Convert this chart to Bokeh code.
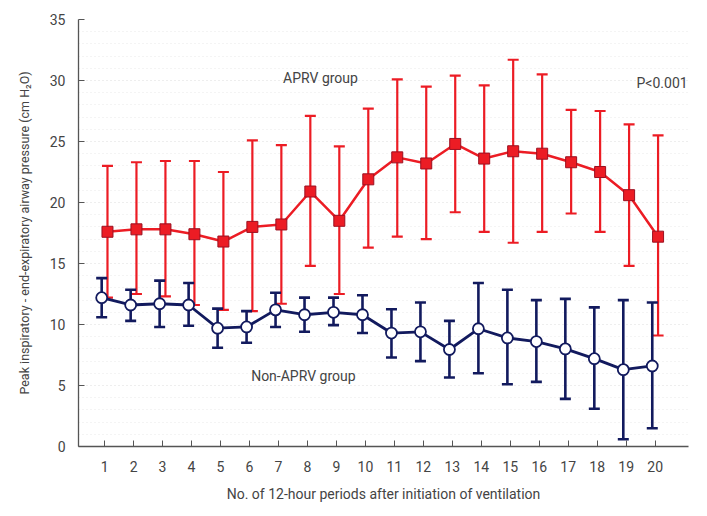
import numpy as np
from bokeh.plotting import figure
from bokeh.models import ColumnDataSource, Whisker, TeeHead, FixedTicker, Label
from bokeh.embed import file_html
from bokeh.resources import INLINE

periods = list(range(1, 21))
aprv_mean = [17.6, 17.8, 17.8, 17.4, 16.8, 18.0, 18.2, 20.9, 18.5, 21.9,
             23.7, 23.2, 24.8, 23.6, 24.2, 24.0, 23.3, 22.5, 20.6, 17.2]
aprv_upper = [23.0, 23.3, 23.4, 23.4, 22.5, 25.1, 24.7, 27.1, 24.6, 27.7,
              30.1, 29.5, 30.4, 29.6, 31.7, 30.5, 27.6, 27.5, 26.4, 25.5]
aprv_lower = [12.2, 12.5, 12.3, 11.6, 11.2, 11.1, 11.7, 14.8, 12.5, 16.3,
              17.2, 17.0, 19.2, 17.6, 16.7, 17.6, 19.1, 17.6, 14.8, 9.1]
non_mean = [12.2, 11.6, 11.7, 11.6, 9.7, 9.8, 11.2, 10.8, 11.0, 10.8,
            9.3, 9.4, 7.95, 9.65, 8.9, 8.6, 8.0, 7.2, 6.3, 6.6]
non_upper = [13.8, 12.85, 13.6, 13.4, 11.3, 11.1, 12.6, 12.2, 12.2, 12.4,
             11.25, 11.8, 10.3, 13.4, 12.85, 12.0, 12.1, 11.4, 12.0, 11.8]
non_lower = [10.6, 10.3, 9.8, 9.9, 8.1, 8.5, 9.8, 9.4, 9.95, 9.3,
             7.3, 7.0, 5.65, 6.0, 5.1, 5.3, 3.9, 3.1, 0.6, 1.5]
y_ticks = [0, 5, 10, 15, 20, 25, 30, 35]

RED = "#ec1c24"
NAVY = "#121a5e"
FONT = "Roboto"

x = np.array(periods, dtype=float)
src_a = ColumnDataSource(dict(x=x + 0.1, y=aprv_mean, upper=aprv_upper, lower=aprv_lower))
src_n = ColumnDataSource(dict(x=x - 0.1, y=non_mean, upper=non_upper, lower=non_lower))

p = figure(width=699, height=508, x_range=(0.1, 21.15), y_range=(0, 35),
           output_backend="svg", toolbar_location=None,
           min_border_left=78, min_border_right=11, min_border_top=19, min_border_bottom=62)
p.outline_line_color = None
p.background_fill_color = "white"

# grid
p.xgrid.grid_line_color = None
p.ygrid.grid_line_color = "#e8e8e8"
p.ygrid.grid_line_dash = "1 3"
p.ygrid.minor_grid_line_color = "#e8e8e8"
p.ygrid.minor_grid_line_dash = "1 3"

# axes
p.yaxis.ticker = FixedTicker(ticks=y_ticks, minor_ticks=list(range(0, 36)))
p.xaxis.ticker = FixedTicker(ticks=periods)
for ax in (p.xaxis[0], p.yaxis[0]):
    ax.axis_line_color = "#555555"
    ax.axis_line_width = 1.3
    ax.major_tick_line_color = "#555555"
    ax.major_tick_in = 6
    ax.major_tick_out = 0
    ax.minor_tick_line_color = None
    ax.major_label_text_font = FONT
    ax.major_label_text_font_size = "14px"
    ax.major_label_text_color = "#444444"
    ax.axis_label_text_font = FONT
    ax.axis_label_text_font_size = "14px"
    ax.axis_label_text_font_style = "normal"
    ax.axis_label_text_color = "#444444"
p.yaxis.axis_label_text_font_size = "12.5px"
p.yaxis.major_label_standoff = 9
p.xaxis.major_label_standoff = 14
p.yaxis.axis_label = "Peak inspiratory - end-expiratory airway pressure (cm H\u2082O)"
p.xaxis.axis_label = "No. of 12-hour periods after initiation of ventilation"
p.yaxis.axis_label_standoff = 15
p.xaxis.axis_label_standoff = 11

# APRV group
wa = Whisker(source=src_a, base="x", upper="upper", lower="lower", dimension="height",
             line_color=RED, line_width=2.2,
             upper_head=TeeHead(size=11, line_color=RED, line_width=2.2),
             lower_head=TeeHead(size=11, line_color=RED, line_width=2.2))
p.add_layout(wa)
p.line("x", "y", source=src_a, line_color=RED, line_width=2.5)
p.scatter("x", "y", source=src_a, marker="square", size=11, fill_color=RED,
          line_color="#9b1020", line_width=1)

# Non-APRV group
wn = Whisker(source=src_n, base="x", upper="upper", lower="lower", dimension="height",
             line_color=NAVY, line_width=2.6,
             upper_head=TeeHead(size=11, line_color=NAVY, line_width=2.6),
             lower_head=TeeHead(size=11, line_color=NAVY, line_width=2.6))
p.add_layout(wn)
p.line("x", "y", source=src_n, line_color=NAVY, line_width=2.8)
p.scatter("x", "y", source=src_n, marker="circle", size=11, fill_color="white",
          line_color=NAVY, line_width=1.8)

# annotations
for txt, lx, ly, align in [("APRV group", 8.45, 30.2, "center"),
                           ("Non-APRV group", 7.86, 5.8, "center"),
                           ("P<0.001", 21.12, 29.8, "right")]:
    p.add_layout(Label(x=lx, y=ly, text=txt, text_font=FONT, text_font_size="14px",
                       text_color="#444444", text_align=align, text_baseline="middle"))

open("out.html", "w").write(file_html(p, INLINE))
